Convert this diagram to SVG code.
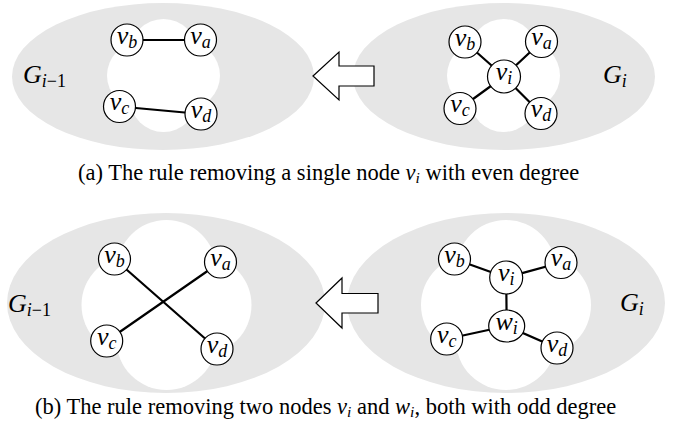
<svg xmlns="http://www.w3.org/2000/svg" width="678" height="434" viewBox="0 0 678 434">
<style>
.bg{fill:#e6e6e6}
.hole{fill:#fff}
.edge{stroke:#000;stroke-width:2.2;fill:none;stroke-linecap:round}
.node{fill:#fff;stroke:#000;stroke-width:1.2}
.arrow{fill:#fff;stroke:#000;stroke-width:1.2;stroke-linejoin:miter}
.lbl{font-family:"Liberation Serif",serif;font-style:italic;font-size:26px;text-anchor:middle}
.glbl{font-family:"Liberation Serif",serif;font-style:italic;font-size:26px}
.sub{font-size:18px}
.up{font-style:normal}
.cap{font-family:"Liberation Serif",serif;font-size:22.5px}
.m{font-style:italic}
.csub{font-size:15.5px;font-style:italic}
</style>
<rect width="678" height="434" fill="#fff"/>
<!-- backgrounds -->
<g id="panel-a-left">
<ellipse class="bg" cx="163" cy="76.5" rx="151" ry="73.5"/>
<g class="hole">
<circle cx="163.5" cy="52.5" r="33.5"/><circle cx="163.5" cy="98.5" r="33.5"/>
<circle cx="140.5" cy="75.5" r="33.5"/><circle cx="186.5" cy="75.5" r="33.5"/>
</g>
<text class="glbl" x="23" y="83">G<tspan class="sub" dy="4">i<tspan class="up">−1</tspan></tspan></text>
</g>
<g id="panel-a-right">
<ellipse class="bg" cx="504" cy="76.5" rx="151" ry="73.5"/>
<g class="hole">
<circle cx="503.5" cy="52.5" r="33.5"/><circle cx="503.5" cy="98.5" r="33.5"/>
<circle cx="480.5" cy="75.5" r="33.5"/><circle cx="526.5" cy="75.5" r="33.5"/>
</g>
<text class="glbl" x="603" y="83">G<tspan class="sub" dy="4">i</tspan></text>
</g>
<g id="panel-b-left">
<ellipse class="bg" cx="166" cy="303" rx="159" ry="90"/>
<g class="hole">
<circle cx="166.5" cy="270" r="50"/><circle cx="166.5" cy="340" r="50"/>
<circle cx="131.5" cy="305" r="50"/><circle cx="201.5" cy="305" r="50"/>
</g>
<text class="glbl" x="8" y="312">G<tspan class="sub" dy="4">i<tspan class="up">−1</tspan></tspan></text>
</g>
<g id="panel-b-right">
<ellipse class="bg" cx="506" cy="303" rx="159" ry="90"/>
<g class="hole">
<circle cx="506" cy="270" r="50"/><circle cx="506" cy="340" r="50"/>
<circle cx="471" cy="305" r="50"/><circle cx="541" cy="305" r="50"/>
</g>
<text class="glbl" x="620" y="311">G<tspan class="sub" dy="4">i</tspan></text>
</g>
<!-- arrows -->
<g id="arrow-a"><polygon class="arrow" points="313,76 339,52 339,66 374,66 374,86 339,86 339,100"/></g>
<g id="arrow-b"><polygon class="arrow" points="316,303 342,278 342,293.5 378,293.5 378,313 342,313 342,328"/></g>
<!-- connectors -->
<g id="connectors">
<line class="edge" x1="127" y1="40" x2="200.5" y2="40"/>
<line class="edge" x1="119.5" y1="106.5" x2="201" y2="114"/>
<line class="edge" x1="504" y1="76.5" x2="465" y2="42"/>
<line class="edge" x1="504" y1="76.5" x2="541.5" y2="41.5"/>
<line class="edge" x1="504" y1="76.5" x2="460" y2="108.5"/>
<line class="edge" x1="504" y1="76.5" x2="541" y2="113.5"/>
<line class="edge" x1="114.5" y1="259" x2="217" y2="349"/>
<line class="edge" x1="220.5" y1="262" x2="106.7" y2="341"/>
<line class="edge" x1="454.5" y1="259" x2="506.2" y2="277.5"/>
<line class="edge" x1="561" y1="262.5" x2="506.2" y2="277.5"/>
<line class="edge" x1="506.2" y1="277.5" x2="506.7" y2="326"/>
<line class="edge" x1="506.7" y1="326" x2="446.7" y2="339"/>
<line class="edge" x1="506.7" y1="326" x2="557" y2="348"/>
</g>
<!-- nodes top-left -->
<g id="a-l-vb"><circle class="node" cx="127" cy="40" r="16"/><text class="lbl" x="127" y="43.5">v<tspan class="sub" dy="4">b</tspan></text></g>
<g id="a-l-va"><circle class="node" cx="200.5" cy="40" r="16"/><text class="lbl" x="200.5" y="43.5">v<tspan class="sub" dy="4">a</tspan></text></g>
<g id="a-l-vc"><circle class="node" cx="119.5" cy="106.5" r="16"/><text class="lbl" x="119.5" y="110">v<tspan class="sub" dy="4">c</tspan></text></g>
<g id="a-l-vd"><circle class="node" cx="201" cy="114" r="16"/><text class="lbl" x="201" y="117.5">v<tspan class="sub" dy="4">d</tspan></text></g>
<!-- nodes top-right -->
<g id="a-r-vb"><circle class="node" cx="465" cy="42" r="16"/><text class="lbl" x="465" y="45.5">v<tspan class="sub" dy="4">b</tspan></text></g>
<g id="a-r-va"><circle class="node" cx="541.5" cy="41.5" r="16"/><text class="lbl" x="541.5" y="45">v<tspan class="sub" dy="4">a</tspan></text></g>
<g id="a-r-vi"><circle class="node" cx="504" cy="76.5" r="16.5"/><text class="lbl" x="504" y="80">v<tspan class="sub" dy="4">i</tspan></text></g>
<g id="a-r-vc"><circle class="node" cx="460" cy="108.5" r="16"/><text class="lbl" x="460" y="112">v<tspan class="sub" dy="4">c</tspan></text></g>
<g id="a-r-vd"><circle class="node" cx="541" cy="113.5" r="16"/><text class="lbl" x="541" y="117">v<tspan class="sub" dy="4">d</tspan></text></g>
<!-- nodes bottom-left -->
<g id="b-l-vb"><circle class="node" cx="114.5" cy="259" r="16"/><text class="lbl" x="114.5" y="262.5">v<tspan class="sub" dy="4">b</tspan></text></g>
<g id="b-l-va"><circle class="node" cx="220.5" cy="262" r="16"/><text class="lbl" x="220.5" y="265.5">v<tspan class="sub" dy="4">a</tspan></text></g>
<g id="b-l-vc"><circle class="node" cx="106.7" cy="341" r="16"/><text class="lbl" x="106.7" y="344.5">v<tspan class="sub" dy="4">c</tspan></text></g>
<g id="b-l-vd"><circle class="node" cx="217" cy="349" r="16"/><text class="lbl" x="217" y="352.5">v<tspan class="sub" dy="4">d</tspan></text></g>
<!-- nodes bottom-right -->
<g id="b-r-vb"><circle class="node" cx="454.5" cy="259" r="16"/><text class="lbl" x="454.5" y="262.5">v<tspan class="sub" dy="4">b</tspan></text></g>
<g id="b-r-va"><circle class="node" cx="561" cy="262.5" r="16"/><text class="lbl" x="561" y="266">v<tspan class="sub" dy="4">a</tspan></text></g>
<g id="b-r-vi"><circle class="node" cx="506.2" cy="277.5" r="16.5"/><text class="lbl" x="506.2" y="281">v<tspan class="sub" dy="4">i</tspan></text></g>
<g id="b-r-wi"><ellipse class="node" cx="506.7" cy="326" rx="18" ry="16"/><text class="lbl" x="506.7" y="329.5">w<tspan class="sub" dy="4">i</tspan></text></g>
<g id="b-r-vc"><circle class="node" cx="446.7" cy="339" r="16"/><text class="lbl" x="446.7" y="342.5">v<tspan class="sub" dy="4">c</tspan></text></g>
<g id="b-r-vd"><circle class="node" cx="557" cy="348" r="16"/><text class="lbl" x="557" y="351.5">v<tspan class="sub" dy="4">d</tspan></text></g>
<!-- captions -->
<text class="cap" x="78" y="180">(a) The rule removing a single node <tspan class="m">v</tspan><tspan class="csub" dy="3">i</tspan><tspan dy="-3"> with even degree</tspan></text>
<text class="cap" x="35" y="414">(b) The rule removing two nodes <tspan class="m">v</tspan><tspan class="csub" dy="3">i</tspan><tspan dy="-3"> and </tspan><tspan class="m">w</tspan><tspan class="csub" dy="3">i</tspan><tspan dy="-3">, both with odd degree</tspan></text>
</svg>
